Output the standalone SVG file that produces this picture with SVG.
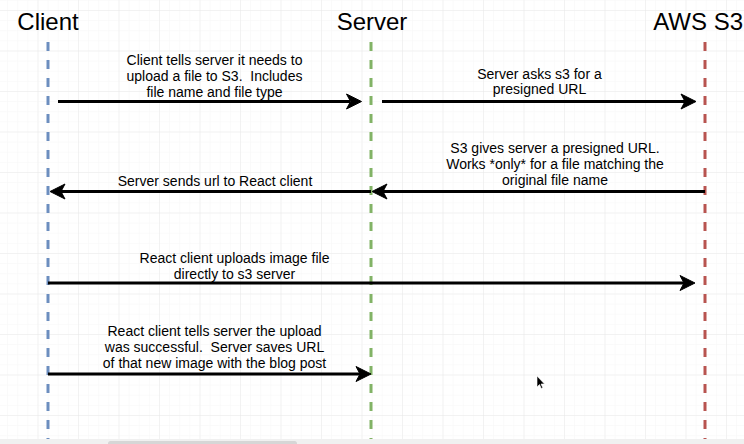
<svg xmlns="http://www.w3.org/2000/svg" width="744" height="444" viewBox="0 0 744 444">
  <style>
    .title { font-family: "Liberation Sans", Arial, sans-serif; font-size: 24px; fill: #000; text-anchor: middle; }
    .lbl { font-family: "Liberation Sans", Arial, sans-serif; font-size: 14px; fill: #000; text-anchor: middle; white-space: pre; }
    .life { stroke-width: 3; stroke-dasharray: 9 9; fill: none; }
    .msg { stroke: #000; stroke-width: 3; fill: none; }
    .head { fill: #000; stroke: #000; stroke-width: 1; stroke-linejoin: miter; }
  </style>
  <defs>
    <pattern id="minor" patternUnits="userSpaceOnUse" x="37.5" y="10" width="10.125" height="10.125">
      <path d="M0 0 V10.125 M0 0 H10.125" stroke="#f6f6f6" stroke-width="1" fill="none"/>
    </pattern>
    <pattern id="major" patternUnits="userSpaceOnUse" x="37.5" y="10" width="40.5" height="40.5">
      <path d="M0 0 V40.5 M0 0 H40.5" stroke="#e9e9e9" stroke-width="1" fill="none"/>
    </pattern>
  </defs>
  <rect x="0" y="0" width="744" height="444" fill="#ffffff"/>
  <rect x="0" y="0" width="744" height="439" fill="url(#minor)"/>
  <rect x="0" y="0" width="744" height="439" fill="url(#major)"/>

  <g id="client">
    <text class="title" x="48" y="30">Client</text>
    <line class="life" x1="48" y1="42" x2="48" y2="440" stroke="#6c8ebf"/>
  </g>
  <g id="server">
    <text class="title" x="372" y="30">Server</text>
    <line class="life" x1="371" y1="42" x2="371" y2="440" stroke="#82b366"/>
  </g>
  <g id="aws-s3">
    <text class="title" x="743" y="30" style="text-anchor: end">AWS S3</text>
    <line class="life" x1="705" y1="42" x2="705" y2="440" stroke="#b85450"/>
  </g>

  <g id="connectors">
    <g id="m1">
      <line class="msg" x1="58" y1="101.5" x2="350" y2="101.5"/>
      <path class="head" d="M361.5 101.5 L346.5 94 L350.5 101.5 L346.5 109 Z"/>
      <text class="lbl" x="214.5" y="65">Client tells server it needs to</text>
      <text class="lbl" x="214.5" y="81">upload a file to S3.  Includes</text>
      <text class="lbl" x="214.5" y="96.5">file name and file type</text>
    </g>
    <g id="m2">
      <line class="msg" x1="382" y1="101.5" x2="685" y2="101.5"/>
      <path class="head" d="M696 101.5 L681 94 L685 101.5 L681 109 Z"/>
      <text class="lbl" x="539.5" y="79">Server asks s3 for a</text>
      <text class="lbl" x="539.5" y="94">presigned URL</text>
    </g>
    <g id="m3">
      <line class="msg" x1="705" y1="191.5" x2="383" y2="191.5"/>
      <path class="head" d="M372 191.5 L387 184 L383 191.5 L387 199 Z"/>
      <text class="lbl" x="555" y="153">S3 gives server a presigned URL.</text>
      <text class="lbl" x="555" y="169">Works *only* for a file matching the</text>
      <text class="lbl" x="555" y="185">original file name</text>
    </g>
    <g id="m4">
      <line class="msg" x1="371" y1="191.5" x2="61" y2="191.5"/>
      <path class="head" d="M50 191.5 L65 184 L61 191.5 L65 199 Z"/>
      <text class="lbl" x="215" y="186">Server sends url to React client</text>
    </g>
    <g id="m5">
      <line class="msg" x1="48" y1="283" x2="684" y2="283"/>
      <path class="head" d="M695 283 L680 275.5 L684 283 L680 290.5 Z"/>
      <text class="lbl" x="234.5" y="263">React client uploads image file</text>
      <text class="lbl" x="234.5" y="279">directly to s3 server</text>
    </g>
    <g id="m6">
      <line class="msg" x1="48" y1="374" x2="360" y2="374"/>
      <path class="head" d="M371 374 L356 366.5 L360 374 L356 381.5 Z"/>
      <text class="lbl" x="214.5" y="336">React client tells server the upload</text>
      <text class="lbl" x="214.5" y="352">was successful.  Server saves URL</text>
      <text class="lbl" x="214.5" y="367.5">of that new image with the blog post</text>
    </g>
  </g>

  <path d="M537 376 L537 387 L539.5 384.5 L541.3 388.5 L542.8 387.8 L541 384 L544.5 384 Z" fill="#000" stroke="#fff" stroke-width="0.6"/>

  <rect x="0" y="439" width="744" height="5" fill="#f0f0f0"/>
  <rect x="108" y="441" width="189" height="5" rx="2.5" fill="#d6d6d6"/>
</svg>
